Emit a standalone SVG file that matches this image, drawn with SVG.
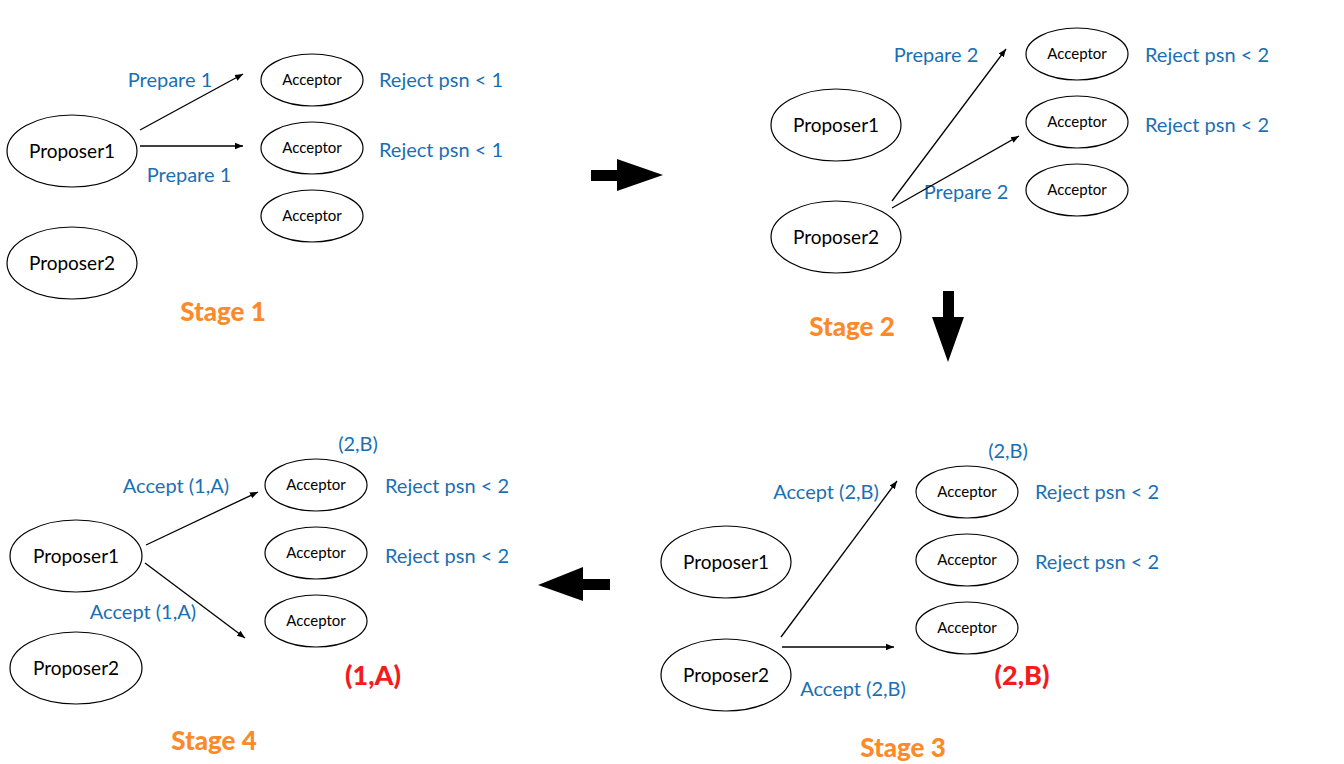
<svg xmlns="http://www.w3.org/2000/svg" width="1344" height="764" viewBox="0 0 1344 764">
<defs>
<marker id="ah" viewBox="0 0 10 10" refX="10" refY="5" markerWidth="8" markerHeight="8" markerUnits="userSpaceOnUse" orient="auto">
<path d="M0,1 L10,5 L0,9 Z" fill="#000"/>
</marker>
<style>
.node ellipse{fill:#fff;stroke:#000;stroke-width:1.2}
.pt{font-family:Lato,"Open Sans",sans-serif;font-size:19px;fill:#000;text-anchor:middle}
.at{font-family:Lato,"Open Sans",sans-serif;font-size:15px;fill:#000;text-anchor:middle}
.lb{font-family:Lato,"Open Sans",sans-serif;font-size:20px;fill:#1a6fb4;text-anchor:middle}
.st{font-family:Lato,"Open Sans",sans-serif;font-size:26px;font-weight:900;fill:#fd8a2a;text-anchor:middle}
.rd{font-family:Lato,"Open Sans",sans-serif;font-size:27px;font-weight:900;fill:#f21c1c;text-anchor:middle}
.conn line{stroke:#000;stroke-width:1.3;marker-end:url(#ah)}
</style>
</defs>
<rect width="1344" height="764" fill="#fff"/>

<!-- Stage 1 -->
<g id="s1-proposer1" class="node"><ellipse cx="72" cy="151" rx="65" ry="36"/><text class="pt" x="72" y="158">Proposer1</text></g>
<g id="s1-proposer2" class="node"><ellipse cx="72" cy="263" rx="65" ry="36"/><text class="pt" x="72" y="270">Proposer2</text></g>
<g id="s1-acceptor1" class="node"><ellipse cx="312" cy="80" rx="51" ry="26"/><text class="at" x="312" y="85">Acceptor</text></g>
<g id="s1-acceptor2" class="node"><ellipse cx="312" cy="148" rx="51" ry="26"/><text class="at" x="312" y="153">Acceptor</text></g>
<g id="s1-acceptor3" class="node"><ellipse cx="312" cy="216" rx="51" ry="26"/><text class="at" x="312" y="221">Acceptor</text></g>
<text class="lb" x="170" y="87">Prepare 1</text>
<text class="lb" x="189" y="182">Prepare 1</text>
<text class="lb" x="441" y="87">Reject psn &lt; 1</text>
<text class="lb" x="441" y="157">Reject psn &lt; 1</text>
<text class="st" x="223" y="321">Stage 1</text>

<!-- Stage 2 -->
<g id="s2-proposer1" class="node"><ellipse cx="836" cy="125" rx="65" ry="36"/><text class="pt" x="836" y="132">Proposer1</text></g>
<g id="s2-proposer2" class="node"><ellipse cx="836" cy="237" rx="65" ry="36"/><text class="pt" x="836" y="244">Proposer2</text></g>
<g id="s2-acceptor1" class="node"><ellipse cx="1077" cy="54" rx="51" ry="26"/><text class="at" x="1077" y="59">Acceptor</text></g>
<g id="s2-acceptor2" class="node"><ellipse cx="1077" cy="122" rx="51" ry="26"/><text class="at" x="1077" y="127">Acceptor</text></g>
<g id="s2-acceptor3" class="node"><ellipse cx="1077" cy="190" rx="51" ry="26"/><text class="at" x="1077" y="195">Acceptor</text></g>
<text class="lb" x="936" y="62">Prepare 2</text>
<text class="lb" x="966" y="199">Prepare 2</text>
<text class="lb" x="1207" y="62">Reject psn &lt; 2</text>
<text class="lb" x="1207" y="132">Reject psn &lt; 2</text>
<text class="st" x="852" y="336">Stage 2</text>

<!-- Stage 3 -->
<g id="s3-proposer1" class="node"><ellipse cx="726" cy="562" rx="65" ry="36"/><text class="pt" x="726" y="569">Proposer1</text></g>
<g id="s3-proposer2" class="node"><ellipse cx="726" cy="675" rx="65" ry="36"/><text class="pt" x="726" y="682">Proposer2</text></g>
<g id="s3-acceptor1" class="node"><ellipse cx="967" cy="492" rx="51" ry="26"/><text class="at" x="967" y="497">Acceptor</text></g>
<g id="s3-acceptor2" class="node"><ellipse cx="967" cy="560" rx="51" ry="26"/><text class="at" x="967" y="565">Acceptor</text></g>
<g id="s3-acceptor3" class="node"><ellipse cx="967" cy="628" rx="51" ry="26"/><text class="at" x="967" y="633">Acceptor</text></g>
<text class="lb" x="1008" y="458">(2,B)</text>
<text class="lb" x="826" y="499">Accept (2,B)</text>
<text class="lb" x="853" y="696">Accept (2,B)</text>
<text class="lb" x="1097" y="499">Reject psn &lt; 2</text>
<text class="lb" x="1097" y="569">Reject psn &lt; 2</text>
<text class="rd" x="1022" y="685">(2,B)</text>
<text class="st" x="903" y="757">Stage 3</text>

<!-- Stage 4 -->
<g id="s4-proposer1" class="node"><ellipse cx="76" cy="556" rx="66" ry="36"/><text class="pt" x="76" y="563">Proposer1</text></g>
<g id="s4-proposer2" class="node"><ellipse cx="76" cy="668" rx="66" ry="36"/><text class="pt" x="76" y="675">Proposer2</text></g>
<g id="s4-acceptor1" class="node"><ellipse cx="316" cy="485" rx="51" ry="26"/><text class="at" x="316" y="490">Acceptor</text></g>
<g id="s4-acceptor2" class="node"><ellipse cx="316" cy="553" rx="51" ry="26"/><text class="at" x="316" y="558">Acceptor</text></g>
<g id="s4-acceptor3" class="node"><ellipse cx="316" cy="621" rx="51" ry="26"/><text class="at" x="316" y="626">Acceptor</text></g>
<text class="lb" x="358" y="451">(2,B)</text>
<text class="lb" x="176" y="493">Accept (1,A)</text>
<text class="lb" x="143" y="619">Accept (1,A)</text>
<text class="lb" x="447" y="493">Reject psn &lt; 2</text>
<text class="lb" x="447" y="563">Reject psn &lt; 2</text>
<text class="rd" x="373" y="685">(1,A)</text>
<text class="st" x="214" y="750">Stage 4</text>

<!-- Connectors -->
<g id="connectors" class="conn">
<line x1="140" y1="130" x2="243" y2="74"/>
<line x1="140" y1="146" x2="243" y2="146"/>
<line x1="892" y1="201" x2="1006" y2="49"/>
<line x1="892" y1="208" x2="1019" y2="136"/>
<line x1="781" y1="637" x2="897" y2="481"/>
<line x1="782" y1="647" x2="894" y2="647"/>
<line x1="146" y1="545" x2="258" y2="492"/>
<line x1="145" y1="563" x2="245" y2="638"/>
</g>

<!-- Stage transition arrows -->
<g id="transitions" fill="#000">
<path d="M591,170 L617,170 L617,159 L663,175 L617,191 L617,181 L591,181 Z"/>
<path d="M943,291 L954,291 L954,317 L964,317 L948,362 L932,317 L943,317 Z"/>
<path d="M610,579 L583,579 L583,567 L538,585 L583,601 L583,590 L610,590 Z"/>
</g>
</svg>
